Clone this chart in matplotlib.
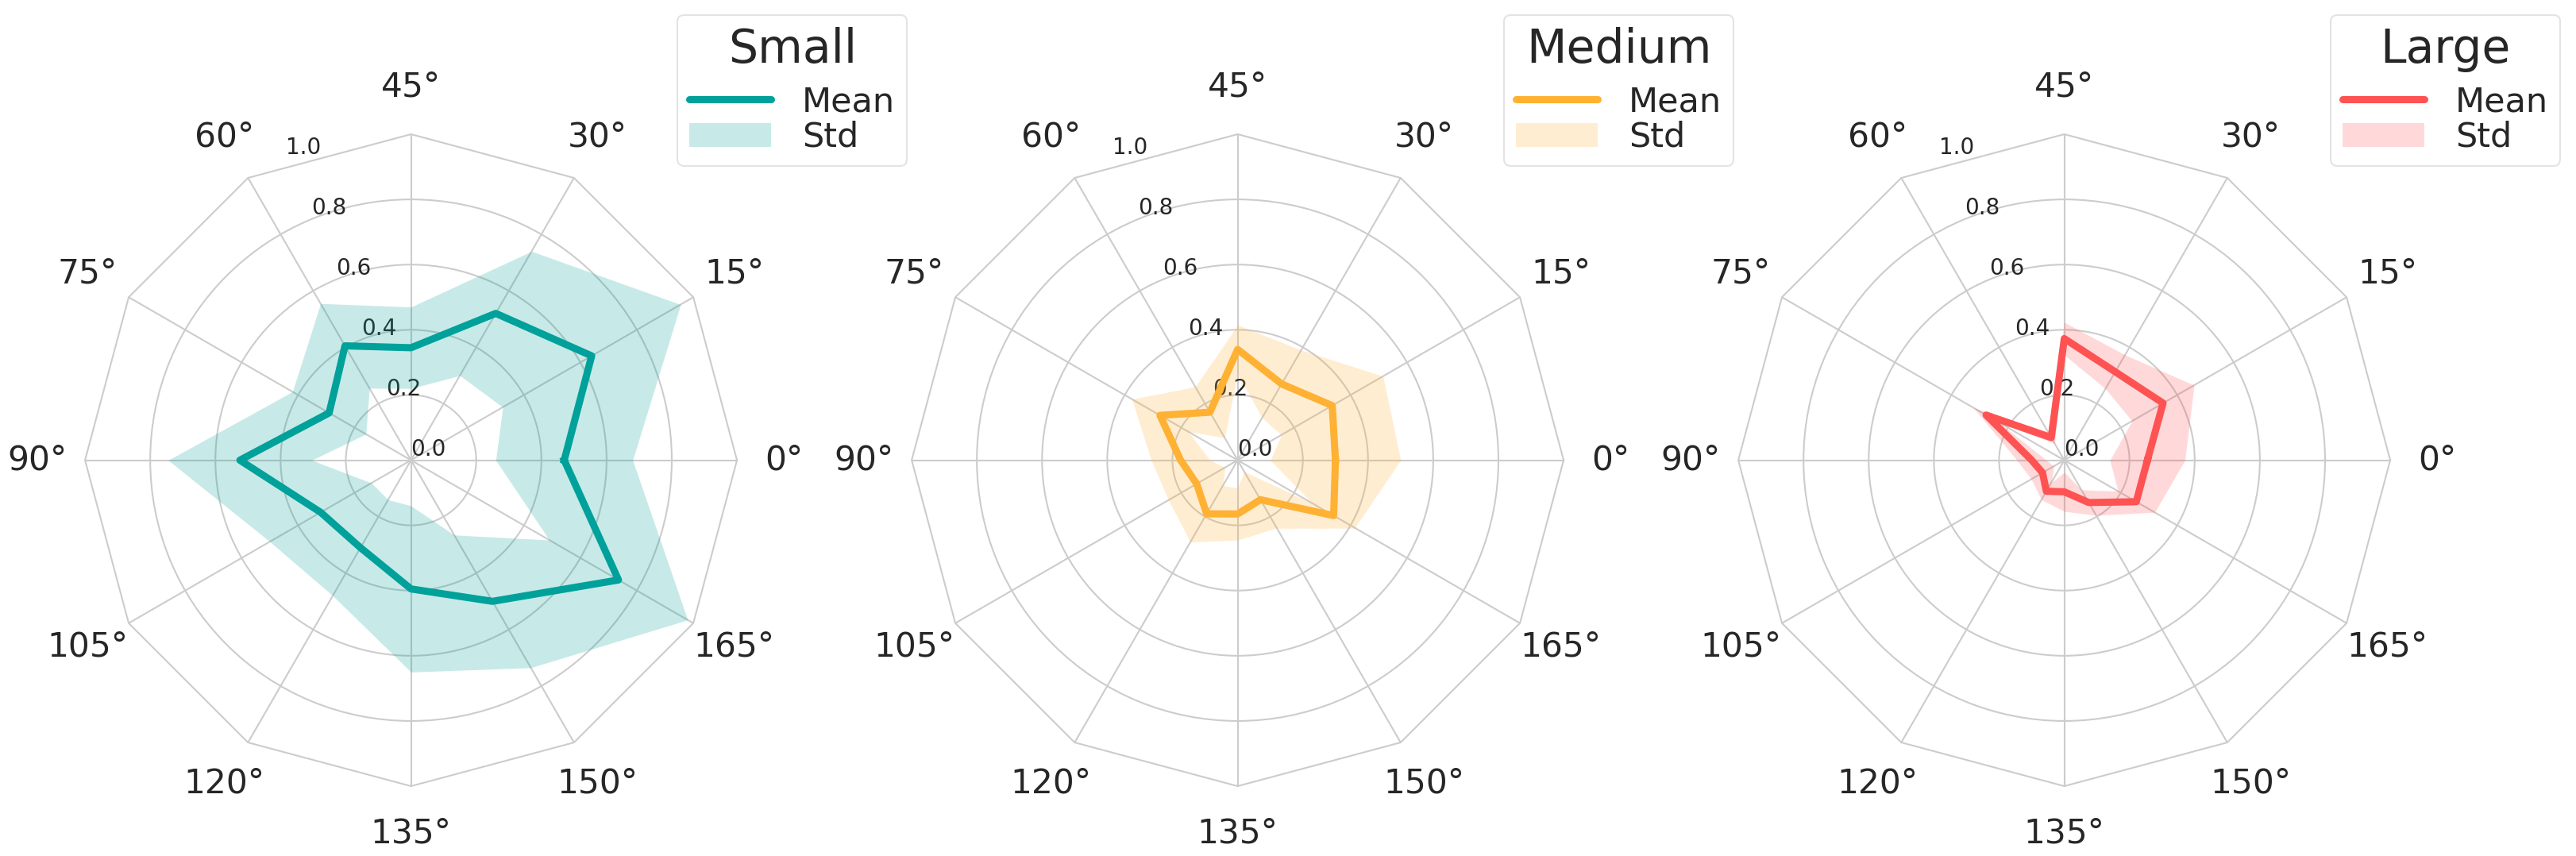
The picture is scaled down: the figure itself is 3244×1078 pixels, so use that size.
import numpy as np
import matplotlib
matplotlib.use("Agg")
import matplotlib.pyplot as plt
from matplotlib.patches import Patch

# orientation labels, one spoke every 30 degrees on the chart
labels = ["0°", "15°", "30°", "45°", "60°", "75°", "90°",
          "105°", "120°", "135°", "150°", "165°"]

groups = ["Small", "Medium", "Large"]
colors = ["#00a19a", "#ffb133", "#ff5252"]

small_mean = [0.47, 0.64, 0.52, 0.345, 0.405, 0.29, 0.525, 0.32, 0.31, 0.395, 0.50, 0.735]
small_std = [0.21, 0.315, 0.22, 0.125, 0.15, 0.13, 0.22, 0.18, 0.17, 0.255, 0.235, 0.245]

medium_mean = [0.30, 0.335, 0.27, 0.34, 0.17, 0.275, 0.175, 0.145, 0.19, 0.165, 0.14, 0.34]
medium_std = [0.20, 0.18, 0.12, 0.075, 0.09, 0.10, 0.09, 0.10, 0.10, 0.08, 0.10, 0.075]

large_mean = [0.255, 0.35, 0.313, 0.373, 0.08, 0.277, 0.10, 0.077, 0.11, 0.097, 0.15, 0.255]
large_std = [0.115, 0.11, 0.06, 0.05, 0.02, 0.045, 0.045, 0.04, 0.03, 0.06, 0.045, 0.065]

rticks = [0.0, 0.2, 0.4, 0.6, 0.8, 1.0]

GRID = "#cccccc"
TEXT = "#262626"


def close(values):
    values = np.asarray(values, dtype=float)
    return np.append(values, values[0])


def draw_radar(ax, mean, std, color, title):
    theta = np.linspace(0, 2 * np.pi, len(labels), endpoint=False)
    th = close(theta)
    m = close(mean)
    s = close(std)

    ax.set_ylim(0, 1.0)
    ax.set_xticks(theta)
    ax.set_xticklabels(labels, fontsize=30.5, color=TEXT)
    ax.tick_params(axis="x", pad=36, length=0)
    ax.set_yticks(rticks)
    ax.set_yticklabels(["%.1f" % t for t in rticks], fontsize=20, color=TEXT)
    ax.set_rlabel_position(112.5)
    ax.grid(True, color=GRID, linewidth=1.5)
    ax.yaxis.get_gridlines()[-1].set_visible(False)
    ax.spines["polar"].set_visible(False)
    ax.set_facecolor("white")

    # polygon frame instead of the round spine
    ax.plot(th, np.ones_like(th) * rticks[-1], color=GRID, linewidth=1.5,
            clip_on=False, zorder=1)

    ax.fill_between(th, np.clip(m - s, 0, None), m + s, color=color,
                    alpha=0.22, linewidth=0, zorder=2)
    ax.plot(th, m, color=color, linewidth=6.5, zorder=3)

    handles = [plt.Line2D([], [], color=color, linewidth=6.5, solid_capstyle="round"),
               Patch(facecolor=color, alpha=0.22, edgecolor="none")]
    leg = ax.legend(handles, ["Mean", "Std"], title=title, loc="upper right",
                    bbox_to_anchor=(1.261, 1.183), borderaxespad=0,
                    fontsize=31, title_fontsize=42, labelspacing=0.05,
                    handlelength=2.4, handletextpad=0.9, borderpad=0.35,
                    frameon=True, fancybox=True)
    leg._legend_box.sep = 12
    leg.get_frame().set_edgecolor("#dddddd")
    leg.get_frame().set_linewidth(1.5)
    for t in leg.get_texts():
        t.set_color(TEXT)
    leg.get_title().set_color(TEXT)


fig = plt.figure(figsize=(32.44, 10.78), dpi=100)
means = [small_mean, medium_mean, large_mean]
stds = [small_std, medium_std, large_std]
lefts = [0.0330, 0.3539, 0.6748]
for i in range(3):
    ax = fig.add_axes([lefts[i], 0.0816, 0.2531, 0.7616], projection="polar")
    draw_radar(ax, means[i], stds[i], colors[i], groups[i])

fig.savefig("out.png", dpi=100, facecolor="white")
plt.close()
